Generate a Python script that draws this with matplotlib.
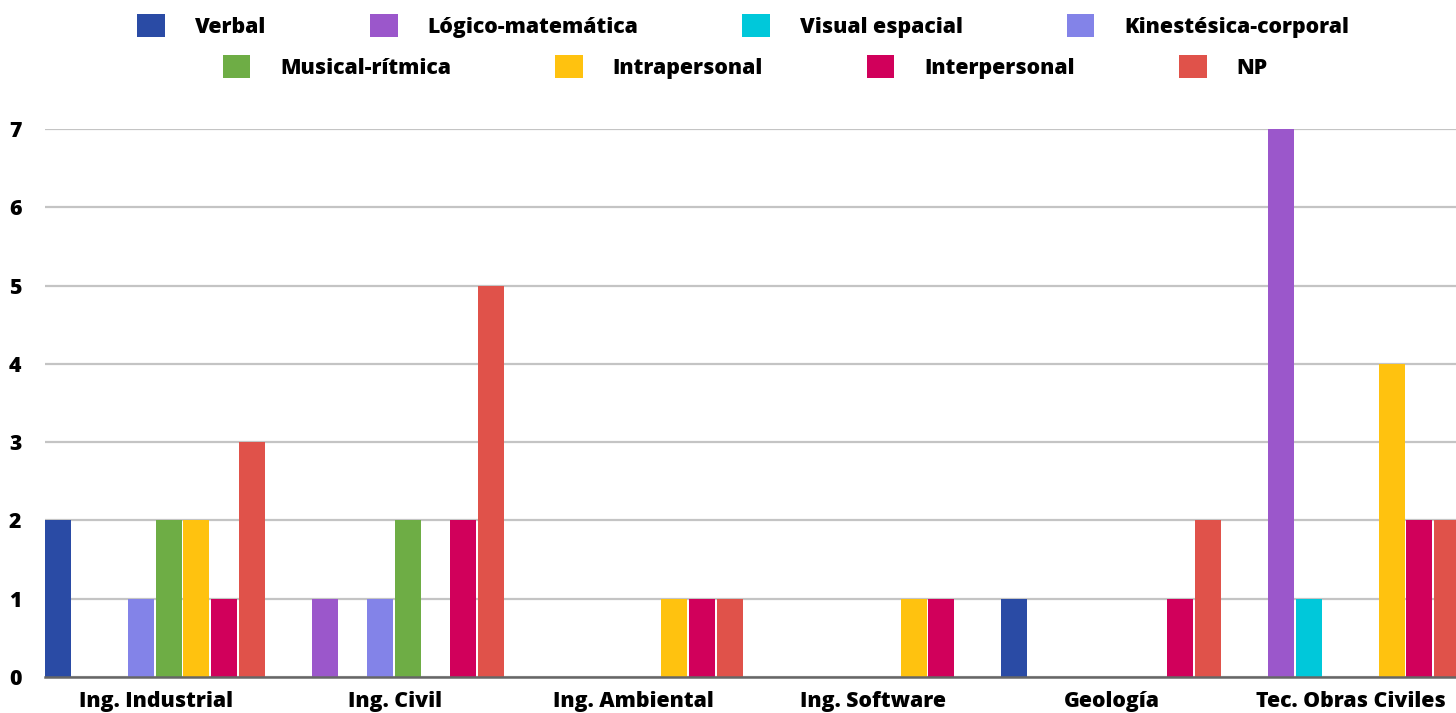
import matplotlib
matplotlib.use("Agg")
import matplotlib.pyplot as plt
from matplotlib.patches import Patch
import numpy as np

categories = ["Ing. Industrial", "Ing. Civil", "Ing. Ambiental", "Ing. Software", "Geología", "Tec. Obras Civiles"]
series_names = ["Verbal", "Lógico-matemática", "Visual espacial", "Kinestésica-corporal",
                "Musical-rítmica", "Intrapersonal", "Interpersonal", "NP"]
verbal        = [2, 0, 0, 0, 1, 0]
logico        = [0, 1, 0, 0, 0, 7]
visual        = [0, 0, 0, 0, 0, 1]
kinestesica   = [1, 1, 0, 0, 0, 0]
musical       = [2, 2, 0, 0, 0, 0]
intrapersonal = [2, 0, 1, 1, 0, 4]
interpersonal = [1, 2, 1, 1, 1, 2]
np_vals       = [3, 5, 1, 0, 2, 2]
series = [verbal, logico, visual, kinestesica, musical, intrapersonal, interpersonal, np_vals]
colors = ["#2A4BA5", "#9B57CB", "#00C8DA", "#8383E8", "#6EAD45", "#FFC20F", "#D1005B", "#E0524A"]
y_ticks = [0, 1, 2, 3, 4, 5, 6, 7]

plt.rcParams['font.family'] = ['Open Sans', 'DejaVu Sans']
WEIGHT = 800
FS = 15.3

W, H = 1456, 713
fig = plt.figure(figsize=(W / 100, H / 100), dpi=100)
ax = fig.add_axes([45 / W, 1 - 677 / H, 1 - 45 / W, (677 - 129) / H])

G = 8.64
bw = 0.94
x0 = np.arange(len(categories)) * G
for i, (vals, c) in enumerate(zip(series, colors)):
    ax.bar(x0 + i, vals, width=bw, align='edge', color=c, zorder=3, linewidth=0)

ax.set_xlim(0, (W - 45) / 27.67)
ax.set_ylim(0, 7)
ax.set_yticks(y_ticks)
ax.set_yticklabels([str(t) for t in y_ticks], fontsize=FS, fontweight=WEIGHT)
ax.set_xticks(x0 + 4)
ax.set_xticklabels(categories, fontsize=FS, fontweight=WEIGHT)
ax.tick_params(axis='both', length=0)
ax.tick_params(axis='x', pad=10)
ax.tick_params(axis='y', pad=17)
ax.yaxis.grid(True, color="#C4C4C4", linewidth=1.6, zorder=0)
ax.set_axisbelow(True)
for s in ['top', 'right', 'left']:
    ax.spines[s].set_visible(False)
ax.spines['bottom'].set_color('#666666')
ax.spines['bottom'].set_linewidth(1.8)
ax.spines['bottom'].set_zorder(4)

handles = [Patch(facecolor=c, edgecolor='none') for c in colors]
common = dict(ncol=4, frameon=False, prop={'weight': WEIGHT, 'size': FS},
              handlelength=1.3, handleheight=1.3, handletextpad=1.4,
              columnspacing=4.9, borderaxespad=0, borderpad=0)
leg1 = fig.legend(handles[:4], series_names[:4], loc='center',
                  bbox_to_anchor=(743 / W, 1 - 26 / H), **common)
leg2 = fig.legend(handles[4:], series_names[4:], loc='center',
                  bbox_to_anchor=(745 / W, 1 - 67 / H), **common)

fig.savefig("out.png", dpi=100)
